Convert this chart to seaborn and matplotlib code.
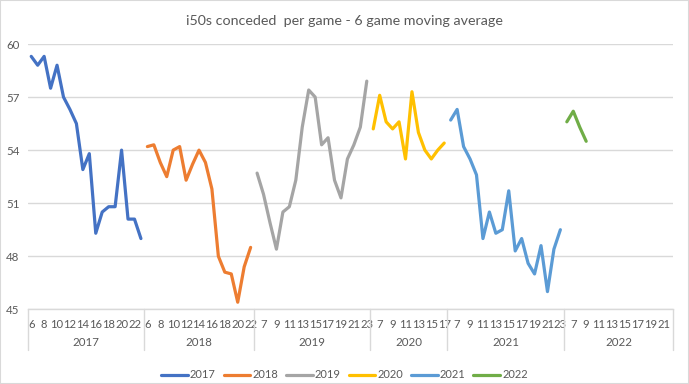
import numpy as np
import pandas as pd
import matplotlib
matplotlib.use("Agg")
import matplotlib.pyplot as plt
import matplotlib.transforms as mtransforms
from matplotlib.lines import Line2D
from matplotlib.patches import Rectangle
import seaborn as sns

# rounds shown on the category axis for each season
years = ["2017", "2018", "2019", "2020", "2021", "2022"]
rounds_2017 = list(range(6, 24))
rounds_2018 = list(range(6, 23))
rounds_2019 = list(range(6, 24))
rounds_2020 = list(range(6, 18))
rounds_2021 = list(range(6, 24))
rounds_2022 = list(range(6, 23))

# 6 game moving average of i50s conceded
avg_2017 = [59.3, 58.8, 59.3, 57.5, 58.8, 57.0, 56.3, 55.5, 52.9, 53.8,
            49.3, 50.5, 50.8, 50.8, 54.0, 50.1, 50.1, 49.0]
avg_2018 = [54.2, 54.3, 53.3, 52.5, 54.0, 54.2, 52.3, 53.2, 54.0, 53.3,
            51.8, 48.0, 47.1, 47.0, 45.4, 47.4, 48.5]
avg_2019 = [52.7, 51.5, 49.9, 48.4, 50.5, 50.8, 52.3, 55.3, 57.4, 57.0,
            54.3, 54.7, 52.3, 51.3, 53.5, 54.3, 55.3, 57.9]
avg_2020 = [55.2, 57.1, 55.6, 55.2, 55.6, 53.5, 57.3, 55.0, 54.0, 53.5,
            54.0, 54.4]
avg_2021 = [55.7, 56.3, 54.2, 53.5, 52.6, 49.0, 50.5, 49.3, 49.5, 51.7,
            48.3, 49.0, 47.6, 47.0, 48.6, 46.0, 48.4, 49.5]
avg_2022 = [55.6, 56.2, 55.3, 54.5]

colors = ["#4472C4", "#ED7D31", "#A5A5A5", "#FFC000", "#5B9BD5", "#70AD47"]

all_rounds = [rounds_2017, rounds_2018, rounds_2019, rounds_2020, rounds_2021, rounds_2022]
all_avgs = [avg_2017, avg_2018, avg_2019, avg_2020, avg_2021, avg_2022]

# one long table, one category slot per (year, round)
rows = []
pos = 0
cat_labels = []
year_spans = []
for yr, rnds, vals in zip(years, all_rounds, all_avgs):
    start = pos
    for i, r in enumerate(rnds):
        v = vals[i] if i < len(vals) else np.nan
        rows.append({"year": yr, "round": r, "pos": pos, "value": v})
        cat_labels.append(r)
        pos += 1
    year_spans.append((yr, start, pos))
df = pd.DataFrame(rows)
n_cats = pos

sns.set_theme(style="white")
plt.rcParams["font.family"] = ["Lato", "DejaVu Sans"]

W, H = 689, 384
fig = plt.figure(figsize=(W / 100, H / 100), dpi=100)
left, right, top, bottom = 28, 673.3, 44, 309.3
ax = fig.add_axes([left / W, 1 - bottom / H, (right - left) / W, (bottom - top) / H])

sns.lineplot(data=df.dropna(), x="pos", y="value", hue="year", palette=colors,
             linewidth=2.3, legend=False, ax=ax, sort=True)

ax.set_xlim(-0.5, n_cats - 0.5)
ax.set_ylim(45, 60)
ax.set_yticks(np.arange(45, 61, 3))
ax.yaxis.grid(True, color="#D9D9D9", linewidth=1)
ax.set_axisbelow(True)
for side in ["top", "right", "left"]:
    ax.spines[side].set_visible(False)
ax.spines["bottom"].set_color("#D9D9D9")
ax.spines["bottom"].set_linewidth(1)

# every other category gets a label, like the source axis
tick_pos = list(range(0, n_cats, 2))
ax.set_xticks(tick_pos)
ax.set_xticklabels([str(cat_labels[p]) for p in tick_pos])
ax.tick_params(axis="x", length=0, pad=7, labelsize=8.1, colors="#595959")
ax.tick_params(axis="y", length=0, pad=6, labelsize=8.3, colors="#595959")
ax.set_xlabel("")
ax.set_ylabel("")

# year group labels and separators below the axis
trans = mtransforms.blended_transform_factory(ax.transData, ax.transAxes)
sep_depth = -(350 - bottom) / (bottom - top)
for yr, s, e in year_spans:
    ax.plot([s - 0.5, s - 0.5], [0, sep_depth], transform=trans, color="#D9D9D9",
            linewidth=1, clip_on=False)
    ax.text((s + e - 1) / 2, -(343 - bottom) / (bottom - top), yr, transform=trans,
            ha="center", va="center", fontsize=8.3, color="#595959")
ax.plot([n_cats - 0.5, n_cats - 0.5], [0, sep_depth], transform=trans, color="#D9D9D9",
        linewidth=1, clip_on=False)

fig.text(0.5, 1 - 21 / H, "i50s conceded  per game - 6 game moving average",
         ha="center", va="center", fontsize=10.3, color="#595959")

handles = [Line2D([0], [0], color=c, linewidth=2.3) for c in colors]
fig.legend(handles, years, loc="center", bbox_to_anchor=(0.5, 1 - 375 / H), ncol=6,
           frameon=False, fontsize=8, handlelength=2.4, handletextpad=0.2,
           columnspacing=0.7, labelcolor="#595959")

fig.patches.append(Rectangle((0, 0), 1, 1, transform=fig.transFigure, fill=False,
                             edgecolor="#D9D9D9", linewidth=1.5))

fig.savefig("out.png", dpi=100)
